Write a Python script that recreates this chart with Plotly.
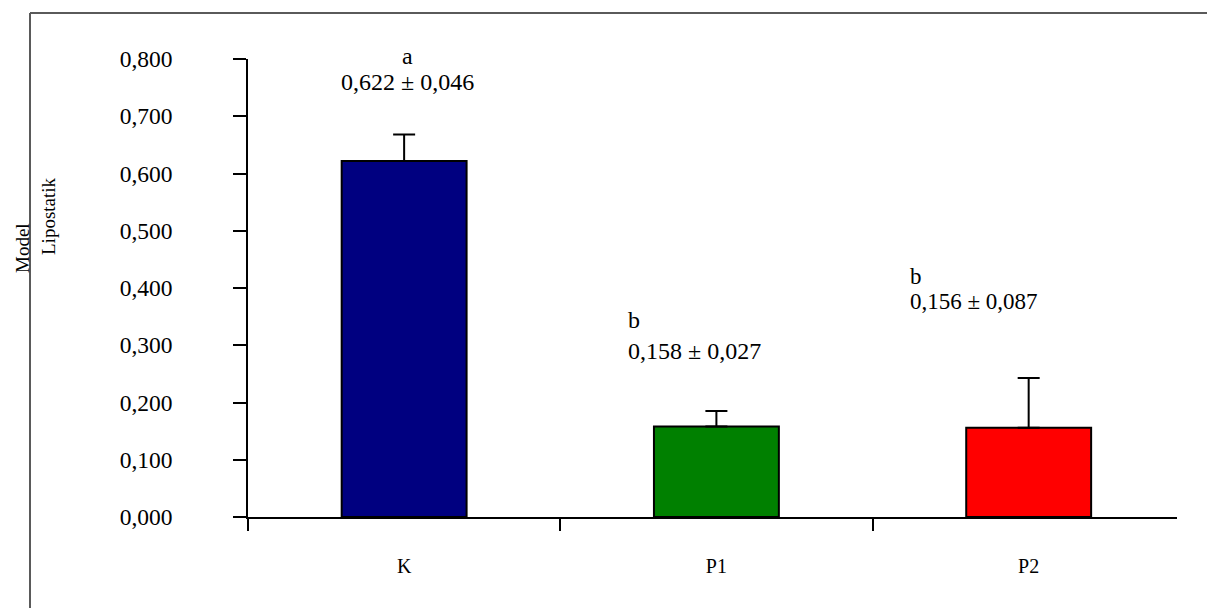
import plotly.graph_objects as go

# ---- data ----
categories = ["K", "P1", "P2"]
means = [0.622, 0.158, 0.156]
sds = [0.046, 0.027, 0.087]
letters = ["a", "b", "b"]
bar_colors = ["#000080", "#008000", "#FF0000"]
y_ticks = [0.0, 0.1, 0.2, 0.3, 0.4, 0.5, 0.6, 0.7, 0.8]

# ---- layout geometry (pixels) ----
W, H = 1207, 608
L, R, T, B = 248, 30, 59, 91
plot_w = W - L - R
plot_h = H - T - B
YMAX = 0.8
FONT = "Liberation Serif, Times New Roman, serif"


def px_to_paper_x(px):
    return (px - L) / plot_w


def px_to_paper_y(py):
    return (H - B - py) / plot_h


fig = go.Figure()
fig.add_trace(go.Bar(
    x=categories,
    y=means,
    width=0.4,
    marker=dict(color=bar_colors, line=dict(color="#000000", width=2)),
    error_y=dict(type="data", array=sds, arrayminus=[0] * len(sds),
                 symmetric=False, color="#000000", thickness=2, width=11),
    showlegend=False,
))

# annotation placement styles: (xanchor, xshift px, letter center y px, value center y px, font size)
label_style = [
    ("center", 3, 56, 82, 24),
    ("left", -90, 320, 351, 24),
    ("left", -121, 276, 301, 23),
]

annotations = []
for i, cat in enumerate(categories):
    xa, xs, ly, vy, fs = label_style[i]
    val_text = f"{means[i]:.3f} ± {sds[i]:.3f}".replace(".", ",")
    annotations.append(dict(x=cat, y=px_to_paper_y(ly), xref="x", yref="paper",
                            text=letters[i], showarrow=False, xanchor=xa,
                            yanchor="middle", xshift=xs,
                            font=dict(family=FONT, size=fs, color="#000000")))
    annotations.append(dict(x=cat, y=px_to_paper_y(vy), xref="x", yref="paper",
                            text=val_text, showarrow=False, xanchor=xa,
                            yanchor="middle", xshift=xs,
                            font=dict(family=FONT, size=fs, color="#000000")))

# y-axis title (two separate rotated lines)
annotations.append(dict(x=px_to_paper_x(22), y=px_to_paper_y(248), xref="paper", yref="paper",
                        text="Model", textangle=-90, showarrow=False,
                        xanchor="center", yanchor="middle",
                        font=dict(family=FONT, size=19, color="#000000")))
annotations.append(dict(x=px_to_paper_x(49), y=px_to_paper_y(216), xref="paper", yref="paper",
                        text="Lipostatik", textangle=-90, showarrow=False,
                        xanchor="center", yanchor="middle",
                        font=dict(family=FONT, size=19, color="#000000")))

# outer chart border (left and top edges visible)
border_line = dict(color="#5a5a5a", width=2)
shapes = [
    dict(type="line", xref="paper", yref="paper",
         x0=px_to_paper_x(30), x1=px_to_paper_x(30),
         y0=px_to_paper_y(H), y1=px_to_paper_y(13), line=border_line, layer="below"),
    dict(type="line", xref="paper", yref="paper",
         x0=px_to_paper_x(30), x1=px_to_paper_x(W),
         y0=px_to_paper_y(13), y1=px_to_paper_y(13), line=border_line, layer="below"),
]

fig.update_layout(
    width=W, height=H, autosize=False,
    margin=dict(l=L, r=R, t=T, b=B, pad=0),
    paper_bgcolor="#ffffff", plot_bgcolor="#ffffff",
    separators=",.",
    font=dict(family=FONT, color="#000000"),
    annotations=annotations,
    shapes=shapes,
    xaxis=dict(type="category", range=[-0.5, 2.475], showgrid=False, zeroline=False,
               showline=True, linecolor="#000000", linewidth=1.5,
               ticks="outside", tickson="boundaries", ticklen=12, tickwidth=1.5,
               tickcolor="#000000", ticklabelstandoff=30,
               tickfont=dict(family=FONT, size=20, color="#000000"),
               fixedrange=True),
    yaxis=dict(range=[0, YMAX], showgrid=False, zeroline=False,
               showline=True, linecolor="#000000", linewidth=1.5,
               tickvals=y_ticks, tickformat=".3f",
               ticks="outside", ticklen=13, tickwidth=1.5, tickcolor="#000000",
               ticklabelstandoff=56,
               tickfont=dict(family=FONT, size=23.5, color="#000000"),
               fixedrange=True),
)

fig.write_html("out.html", config={"displayModeBar": False})
